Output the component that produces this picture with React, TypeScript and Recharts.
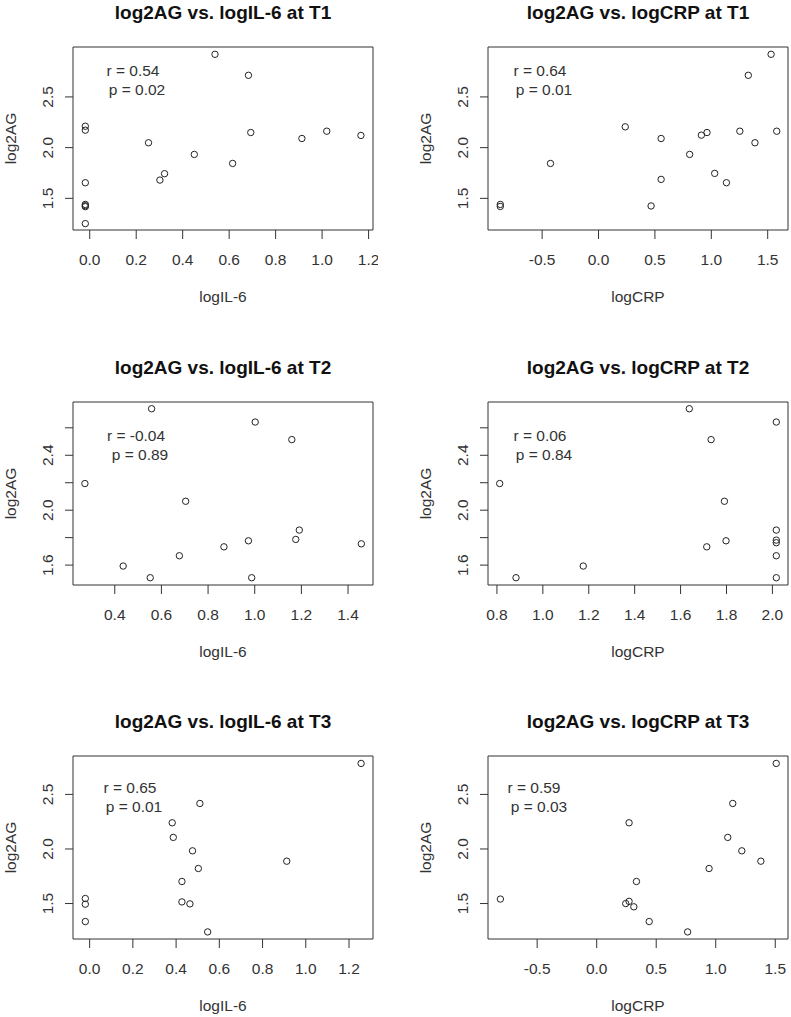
import React from 'react';
import { ScatterChart, Scatter, XAxis, YAxis, ReferenceArea } from 'recharts';

// values (x = log marker, y = log2AG), one pair per panel
const il6T1 = [0.539, 0.683, -0.019, -0.019, 0.253, 0.693, 0.913, 1.02, 1.167, 0.45, 0.615, 0.302, 0.322, -0.019, -0.019, -0.019, -0.019, -0.019];
const agIl6T1 = [2.92, 2.713, 2.211, 2.172, 2.048, 2.149, 2.09, 2.162, 2.12, 1.933, 1.844, 1.68, 1.743, 1.654, 1.44, 1.428, 1.418, 1.251];

const crpT1 = [1.53, 1.328, 0.237, 0.555, 0.912, 0.962, 1.253, 1.58, 1.387, 0.808, 1.03, 1.134, 0.555, -0.426, 0.466, -0.871, -0.871];
const agCrpT1 = [2.92, 2.713, 2.205, 2.09, 2.123, 2.149, 2.162, 2.162, 2.048, 1.933, 1.746, 1.654, 1.687, 1.844, 1.425, 1.44, 1.42];

const il6T2 = [0.558, 1.002, 1.159, 0.272, 0.704, 1.191, 1.176, 0.973, 0.868, 1.457, 0.677, 0.436, 0.552, 0.987];
const agIl6T2 = [2.739, 2.642, 2.514, 2.194, 2.065, 1.855, 1.787, 1.777, 1.733, 1.755, 1.668, 1.593, 1.508, 1.508];

const crpT2 = [1.638, 2.017, 1.733, 0.812, 1.791, 2.017, 2.017, 2.017, 1.798, 1.714, 2.017, 1.176, 0.883, 2.017];
const agCrpT2 = [2.739, 2.642, 2.514, 2.194, 2.065, 1.855, 1.782, 1.763, 1.777, 1.733, 1.668, 1.593, 1.508, 1.508];

const il6T3 = [1.256, 0.51, 0.382, 0.387, 0.476, 0.912, 0.503, 0.427, 0.427, 0.464, -0.02, -0.02, -0.02, 0.546];
const agIl6T3 = [2.784, 2.417, 2.24, 2.106, 1.983, 1.888, 1.821, 1.702, 1.515, 1.497, 1.546, 1.494, 1.335, 1.24];

const crpT3 = [1.508, 1.143, 0.272, 1.101, 1.219, 1.379, 0.944, 0.334, 0.244, 0.272, 0.312, -0.809, 0.441, 0.764];
const agCrpT3 = [2.784, 2.417, 2.24, 2.106, 1.983, 1.888, 1.821, 1.702, 1.5, 1.52, 1.47, 1.541, 1.335, 1.24];

// axis ticks
const ticksIl6T1 = [0, 0.2, 0.4, 0.6, 0.8, 1.0, 1.2];
const ticksCrpT1 = [-0.5, 0, 0.5, 1.0, 1.5];
const ticksIl6T2 = [0.4, 0.6, 0.8, 1.0, 1.2, 1.4];
const ticksCrpT2 = [0.8, 1.0, 1.2, 1.4, 1.6, 1.8, 2.0];
const ticksAgT13 = [1.5, 2.0, 2.5];
const ticksAgT2 = [1.6, 1.8, 2.0, 2.2, 2.4, 2.6];
const labelsAgT2 = [1.6, 2.0, 2.4];

// correlation text
const rValues = ['0.54', '0.64', '-0.04', '0.06', '0.65', '0.59'];
const pValues = ['0.02', '0.01', '0.89', '0.84', '0.01', '0.03'];

// layout
const INK = '#333';
const FONT = '"Liberation Sans", Arial, sans-serif';
const PW = 300;
const PH = 183;
const BOX_L = 73;
const BOX_T = 47;
const CW = 378;
const CH = 310;
const XH = 45;
const YW = 45;
const COL_X = [73, 488];
const ROW_Y = [47, 402, 756];
// [r line centre x, r baseline, p line centre x, p baseline] relative to the plot box
const NOTE_POS = [
    [60, 29, 64, 47.5],
    [52, 29, 56, 47.5],
    [63, 38.5, 67, 58],
    [52, 38.5, 56, 58],
    [57, 37, 61, 55.5],
    [46, 37, 51, 55.5],
];

const panels = [
    { title: 'log2AG vs. logIL-6 at T1', xLabel: 'logIL-6', xs: il6T1, ys: agIl6T1, xDomain: [-0.072, 1.219], yDomain: [1.188, 2.992], xTicks: ticksIl6T1, yTicks: ticksAgT13, yLabels: ticksAgT13 },
    { title: 'log2AG vs. logCRP at T1', xLabel: 'logCRP', xs: crpT1, ys: agCrpT1, xDomain: [-0.98, 1.68], yDomain: [1.188, 2.992], xTicks: ticksCrpT1, yTicks: ticksAgT13, yLabels: ticksAgT13 },
    { title: 'log2AG vs. logIL-6 at T2', xLabel: 'logIL-6', xs: il6T2, ys: agIl6T2, xDomain: [0.221, 1.507], yDomain: [1.455, 2.788], xTicks: ticksIl6T2, yTicks: ticksAgT2, yLabels: labelsAgT2 },
    { title: 'log2AG vs. logCRP at T2', xLabel: 'logCRP', xs: crpT2, ys: agCrpT2, xDomain: [0.761, 2.068], yDomain: [1.455, 2.788], xTicks: ticksCrpT2, yTicks: ticksAgT2, yLabels: labelsAgT2 },
    { title: 'log2AG vs. logIL-6 at T3', xLabel: 'logIL-6', xs: il6T3, ys: agIl6T3, xDomain: [-0.077, 1.311], yDomain: [1.175, 2.852], xTicks: ticksIl6T1, yTicks: ticksAgT13, yLabels: ticksAgT13 },
    { title: 'log2AG vs. logCRP at T3', xLabel: 'logCRP', xs: crpT3, ys: agCrpT3, xDomain: [-0.913, 1.607], yDomain: [1.175, 2.852], xTicks: ticksCrpT1, yTicks: ticksAgT13, yLabels: ticksAgT13 },
];

const OpenDot = (props: any) => (
    <circle cx={props.cx} cy={props.cy} r={3.2} fill="none" stroke="#222" strokeWidth={1} />
);

const Panel = ({ idx }: { idx: number }) => {
    const cfg = panels[idx];
    const data = cfg.xs.map((x, i) => ({ x, y: cfg.ys[i] }));
    const col = idx % 2;
    const row = Math.floor(idx / 2);
    const note = NOTE_POS[idx];

    const xTick = (p: any) => (
        <text x={p.x} y={p.y + 26} textAnchor="middle" fontSize={15.5} fill={INK} fontFamily={FONT}>
            {Number(p.payload.value).toFixed(1)}
        </text>
    );
    const yTick = (p: any) => {
        const v = Number(p.payload.value);
        if (!cfg.yLabels.some((l) => Math.abs(l - v) < 1e-6)) return <g />;
        const bx = p.x - 12;
        return (
            <text x={bx} y={p.y} transform={`rotate(-90 ${bx} ${p.y})`} textAnchor="middle" fontSize={15.5} fill={INK} fontFamily={FONT}>
                {v.toFixed(1)}
            </text>
        );
    };

    return (
        <div style={{ position: 'absolute', left: COL_X[col] - BOX_L, top: ROW_Y[row] - BOX_T, width: CW, height: CH }}>
            <ScatterChart
                width={CW}
                height={CH}
                margin={{ top: BOX_T, right: CW - BOX_L - PW, bottom: CH - BOX_T - PH - XH, left: BOX_L - YW }}
            >
                <XAxis type="number" dataKey="x" domain={cfg.xDomain} allowDataOverflow ticks={cfg.xTicks} interval={0}
                    height={XH} axisLine={false} tickLine={{ stroke: INK }} tickSize={9} tickMargin={0} tick={xTick} />
                <YAxis type="number" dataKey="y" domain={cfg.yDomain} allowDataOverflow ticks={cfg.yTicks} interval={0}
                    width={YW} axisLine={false} tickLine={{ stroke: INK }} tickSize={8} tickMargin={0} tick={yTick} />
                <ReferenceArea x1={cfg.xDomain[0]} x2={cfg.xDomain[1]} y1={cfg.yDomain[0]} y2={cfg.yDomain[1]}
                    fill="none" fillOpacity={0} stroke={INK} strokeWidth={1} ifOverflow="visible" />
                <Scatter data={data} shape={OpenDot} isAnimationActive={false} />
            </ScatterChart>
            <svg width={CW} height={CH} style={{ position: 'absolute', left: 0, top: 0, pointerEvents: 'none' }} fontFamily={FONT}>
                <text x={BOX_L + PW / 2} y={BOX_T - 28.5} textAnchor="middle" fontSize={19} fontWeight="bold" fill="#111">
                    {cfg.title}
                </text>
                <text x={BOX_L + PW / 2} y={BOX_T + PH + 72} textAnchor="middle" fontSize={15.5} fill={INK}>
                    {cfg.xLabel}
                </text>
                <text x={BOX_L - 57.5} y={BOX_T + PH / 2} transform={`rotate(-90 ${BOX_L - 57.5} ${BOX_T + PH / 2})`}
                    textAnchor="middle" fontSize={15.5} fill={INK}>
                    log2AG
                </text>
                <text x={BOX_L + note[0]} y={BOX_T + note[1]} textAnchor="middle" fontSize={15.5} fill={INK}>
                    {`r = ${rValues[idx]}`}
                </text>
                <text x={BOX_L + note[2]} y={BOX_T + note[3]} textAnchor="middle" fontSize={15.5} fill={INK}>
                    {`p = ${pValues[idx]}`}
                </text>
            </svg>
        </div>
    );
};

export default function App() {
    return (
        <div style={{ position: 'absolute', left: 0, top: 0, width: 791, height: 1017, overflow: 'hidden', background: '#fff', fontFamily: FONT }}>
            {panels.map((_, i) => (
                <Panel key={i} idx={i} />
            ))}
        </div>
    );
}
